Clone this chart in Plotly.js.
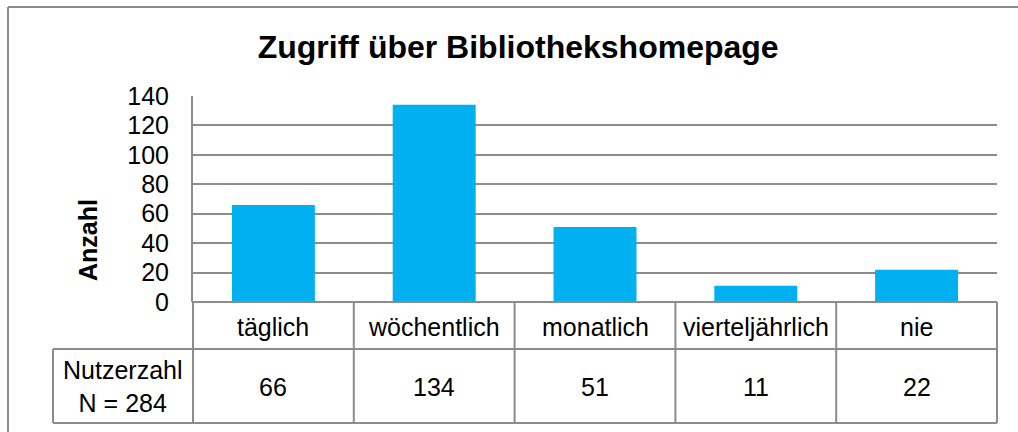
<!DOCTYPE html>
<html>
<head>
<meta charset="utf-8">
<script src="https://cdn.plot.ly/plotly-3.0.1.min.js"></script>
<style>
html,body{margin:0;padding:0;background:#fff;}
#chart{width:1018px;height:432px;}
</style>
</head>
<body>
<div id="chart"></div>
<script>
// ---- data ----
const chartTitle = "Zugriff über Bibliothekshomepage";
const yTitle = "Anzahl";
const categories = ["täglich", "wöchentlich", "monatlich", "vierteljährlich", "nie"];
const counts = [66, 134, 51, 11, 22];
const rowHeader = ["Nutzerzahl", "N = 284"];
const yTickVals = [0, 20, 40, 60, 80, 100, 120, 140];

// ---- styles ----
const FONT = "Liberation Sans, Arial, sans-serif";
const GRAY = "#8c8c8c";
const BAR = "#00B0F0";

// paper coordinates for the data table below the plot
const row1Bottom = -0.2282;
const row2Bottom = -0.5874;
const headLeft = -0.1741;
const catLabelY = -0.1214;
const valueY = -0.4126;

const shapes = [];
function line(xref, x0, x1, y0, y1) {
  shapes.push({type: "line", xref: xref, yref: "paper", x0: x0, x1: x1, y0: y0, y1: y1,
    line: {color: GRAY, width: 2}, layer: "above"});
}
// horizontal table lines
line("paper", 0, 1, 0, 0);
line("paper", headLeft, 1, row1Bottom, row1Bottom);
line("paper", headLeft, 1, row2Bottom, row2Bottom);
// vertical table lines
line("paper", headLeft, headLeft, row1Bottom, row2Bottom);
line("paper", 0, 0, 0, row2Bottom);
for (let i = 0; i < categories.length - 1; i++) {
  line("x", i + 0.5, i + 0.5, 0, row2Bottom);
}
line("paper", 1, 1, 0, row2Bottom);
// outer chart frame (top and left edges)
shapes.push({type: "line", xref: "paper", yref: "paper", x0: -0.2301, x1: 1.04, y0: 1.432, y1: 1.432,
  line: {color: GRAY, width: 2}});
shapes.push({type: "line", xref: "paper", yref: "paper", x0: -0.2301, x1: -0.2301, y0: 1.432, y1: -0.7,
  line: {color: GRAY, width: 2}});

const annotations = [];
categories.forEach((c, i) => {
  annotations.push({xref: "x", yref: "paper", x: i, y: catLabelY, text: c, showarrow: false,
    xanchor: "center", yanchor: "middle", font: {family: FONT, size: 25, color: "#000"}});
  annotations.push({xref: "x", yref: "paper", x: i, y: valueY, text: String(counts[i]), showarrow: false,
    xanchor: "center", yanchor: "middle", font: {family: FONT, size: 25, color: "#000"}});
});
annotations.push({xref: "paper", yref: "paper", x: headLeft / 2, y: valueY, text: rowHeader.join("<br>"),
  showarrow: false, xanchor: "center", yanchor: "middle", align: "center",
  font: {family: FONT, size: 25, color: "#000"}});
annotations.push({xref: "paper", yref: "paper", x: -0.1306, y: 0.301, text: "<b>" + yTitle + "</b>",
  textangle: -90, showarrow: false, xanchor: "center", yanchor: "middle",
  font: {family: FONT, size: 25, color: "#000"}});

const trace = {
  type: "bar",
  x: categories,
  y: counts,
  marker: {color: BAR, line: {width: 0}},
  hoverinfo: "skip"
};

const layout = {
  width: 1018, height: 432,
  margin: {l: 193, r: 21, t: 96, b: 130, pad: 0},
  paper_bgcolor: "#fff", plot_bgcolor: "#fff",
  showlegend: false,
  bargap: 0.484,
  title: {text: "<b>" + chartTitle + "</b>", x: 0.509, xanchor: "center", xref: "container",
    y: 0.891, yanchor: "middle", yref: "container",
    font: {family: FONT, size: 32, color: "#000"}},
  xaxis: {type: "category", range: [-0.5, categories.length - 0.5], showticklabels: false,
    showgrid: false, zeroline: false, showline: false, ticks: "", fixedrange: true},
  yaxis: {range: [0, 140], tickvals: yTickVals, ticktext: yTickVals.map(String),
    showgrid: true, gridcolor: GRAY, gridwidth: 2, zeroline: false, showline: true,
    linecolor: GRAY, linewidth: 2, ticks: "", ticklabelstandoff: 17,
    tickfont: {family: FONT, size: 25, color: "#000"}, fixedrange: true},
  shapes: shapes,
  annotations: annotations
};

Plotly.newPlot("chart", [trace], layout, {staticPlot: true, displayModeBar: false});
</script>
</body>
</html>
